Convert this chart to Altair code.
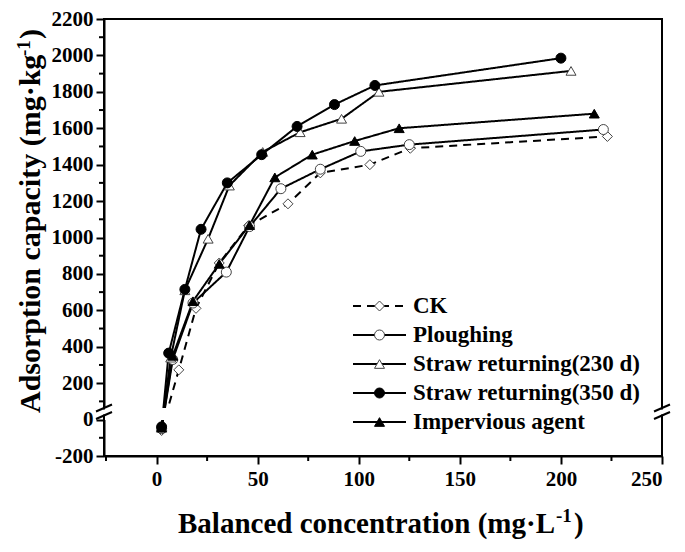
import altair as alt
import pandas as pd

series = ["CK", "Ploughing", "Straw returning(230 d)", "Straw returning(350 d)", "Impervious agent"]

ck_x = [2.5, 11, 19.5, 31, 45.5, 65, 81, 105.5, 125.5, 223]
ck_y = [-60, 273, 611, 860, 1065, 1185, 1355, 1400, 1490, 1555]
pl_x = [2.5, 8, 18, 34.5, 46, 61.5, 81, 101, 125, 221]
pl_y = [-50, 330, 640, 810, 1060, 1268, 1375, 1473, 1510, 1593]
s230_x = [2.5, 7, 14, 25.5, 36, 52.5, 71, 91.5, 110, 205]
s230_y = [-40, 340, 710, 993, 1285, 1470, 1578, 1652, 1800, 1915]
s350_x = [2.5, 6, 14, 22, 35, 52, 69.5, 88, 108, 200]
s350_y = [-40, 365, 715, 1045, 1300, 1455, 1610, 1730, 1835, 1985]
imp_x = [2.5, 8, 18, 31, 46, 58.5, 77, 98, 120, 216.5]
imp_y = [-45, 350, 650, 855, 1068, 1330, 1455, 1530, 1600, 1680]

x_ticks = [0, 50, 100, 150, 200, 250]
x_minor = [-25, 25, 75, 125, 175, 225]
y_ticks = [-200, 0, 200, 400, 600, 800, 1000, 1200, 1400, 1600, 1800, 2000, 2200]
y_minor = [-100, 100, 300, 500, 700, 900, 1100, 1300, 1500, 1700, 1900, 2100]

x_title = ["Balanced concentration (mg·L", "-1", ")"]
y_title = ["Adsorption capacity (mg·kg", "-1", ")"]

shapes = ["diamond", "circle", "triangle-up", "circle", "triangle-up"]
fills = ["white", "white", "white", "black", "black"]
strokes = ["#444444", "#444444", "#444444", "black", "black"]
dashes = [[8, 6], [1, 0], [1, 0], [1, 0], [1, 0]]

rows = []
for name, xs, ys in zip(series, [ck_x, pl_x, s230_x, s350_x, imp_x], [ck_y, pl_y, s230_y, s350_y, imp_y]):
    for i, (a, b) in enumerate(zip(xs, ys)):
        rows.append({"series": name, "idx": i, "x": a, "y": b})
df = pd.DataFrame(rows)

W, H = 558, 437
FONT = "Liberation Serif"
MS = 100

xscale = alt.Scale(domain=[-26, 250], nice=False, zero=False)
yscale = alt.Scale(domain=[-200, 2200], nice=False, zero=False)
xaxis = alt.Axis(values=x_ticks, title=None, grid=False, labelFontSize=21, labelPadding=4)
yaxis = alt.Axis(values=y_ticks, title=None, grid=False, labelFontSize=21, labelPadding=3,
                 labelExpr="'' + datum.value")

def X(f):
    return alt.X(f, type="quantitative", scale=xscale, axis=xaxis)

def Y(f):
    return alt.Y(f, type="quantitative", scale=yscale, axis=yaxis)

sdash = alt.StrokeDash("series:N", scale=alt.Scale(domain=series, range=dashes), legend=None)
sshape = alt.Shape("series:N", scale=alt.Scale(domain=series, range=shapes), legend=None)
sfill = alt.Fill("series:N", scale=alt.Scale(domain=series, range=fills), legend=None)
sstroke = alt.Stroke("series:N", scale=alt.Scale(domain=series, range=strokes), legend=None)

lines = alt.Chart(df).mark_line(strokeWidth=2, color="black").encode(
    x=X("x"), y=Y("y"), detail="series:N", strokeDash=sdash, order="idx:Q")

one = pd.DataFrame({"k": [0]})
band = alt.Chart(one).mark_rect(color="white").encode(
    x=alt.value(1), x2=alt.value(W - 1), y=alt.value(389), y2=alt.value(401))

points = alt.Chart(df).mark_point(filled=True, size=MS, strokeWidth=1, opacity=1).encode(
    x=X("x"), y=Y("y"), shape=sshape, fill=sfill, stroke=sstroke)

mx = alt.Chart(pd.DataFrame({"x": x_minor})).mark_rule(color="black", strokeWidth=2).encode(
    x=X("x"), y=alt.value(H), y2=alt.value(H + 5))
my = alt.Chart(pd.DataFrame({"y": y_minor})).mark_rule(color="black", strokeWidth=2).encode(
    y=Y("y"), x=alt.value(0), x2=alt.value(-5))

main = alt.layer(lines, band, points, mx, my)

# axis breaks
brk = []
for xc in [0, W]:
    brk.append(alt.Chart(one).mark_rule(color="white", strokeWidth=6).encode(
        x=alt.value(xc), x2=alt.value(xc), y=alt.value(390.5), y2=alt.value(395.5)))
    for yc in [389, 396.5]:
        brk.append(alt.Chart(one).mark_rule(color="black", strokeWidth=2).encode(
            x=alt.value(xc - 8), x2=alt.value(xc + 8), y=alt.value(yc + 3.5), y2=alt.value(yc - 3.5)))

# axis titles with superscripts
def txt(s, x, y, size, angle=0):
    return alt.Chart(one).mark_text(text=s, align="left", baseline="alphabetic", font=FONT,
                                    fontWeight="bold", fontSize=size, color="black", angle=angle).encode(
        x=alt.value(x), y=alt.value(y))

titles = [
    txt(x_title[0], 74, 514, 29),
    txt(x_title[1], 452, 503, 19),
    txt(x_title[2], 470, 514, 29),
    txt(y_title[0], -64.5, 394, 30, 270),
    txt(y_title[1], -74.5, 37, 19, 270),
    txt(y_title[2], -64.5, 20, 30, 270),
]

# manual legend
leg = pd.DataFrame({"series": series})
LY = alt.Y("series:N", scale=alt.Scale(type="point", domain=series, range=[287, 403], padding=0), axis=None)
leg_lines = alt.Chart(leg).mark_rule(strokeWidth=2, color="black").encode(
    x=alt.value(249), x2=alt.value(302), y=LY, strokeDash=sdash)
leg_pts = alt.Chart(leg).mark_point(filled=True, size=MS, strokeWidth=1, opacity=1).encode(
    x=alt.value(275.5), y=LY, shape=sshape, fill=sfill, stroke=sstroke)
leg_text = alt.Chart(leg).mark_text(align="left", baseline="middle", font=FONT, fontWeight="bold",
                                    fontSize=23, color="black").encode(
    x=alt.value(309), y=LY, text="series:N")
legend = alt.layer(leg_lines, leg_pts, leg_text)

chart = alt.layer(main, legend, *brk, *titles).resolve_scale(y="independent").properties(
    width=W, height=H,
    padding={"left": 96, "top": 11, "right": 15, "bottom": 88},
    autosize=alt.AutoSizeParams(type="none"),
).configure_view(stroke="black", strokeWidth=2).configure_axis(
    labelFont=FONT, labelFontWeight="bold", labelColor="black", domainColor="black", domainWidth=2,
    tickColor="black", tickWidth=2, tickSize=8, zindex=0,
)

chart.save("out.html", embed_options={"renderer": "svg", "actions": False})
